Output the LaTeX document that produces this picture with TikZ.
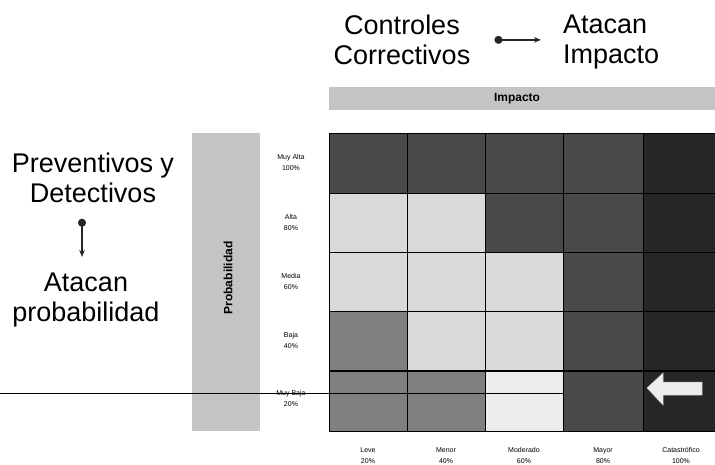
\documentclass[tikz,border=0pt]{standalone}
\usepackage{fontspec}
\setmainfont{Liberation Sans}
\usetikzlibrary{arrows.meta}
\definecolor{barg}{HTML}{C4C4C4}
\definecolor{cK}{HTML}{262626}
\definecolor{cD}{HTML}{4A4A4A}
\definecolor{cM}{HTML}{808080}
\definecolor{cL}{HTML}{DADADA}
\definecolor{cW}{HTML}{EDEDED}
\begin{document}
\begin{tikzpicture}[x=1pt,y=-1pt,
  big/.style={font=\fontsize{27}{29.5}\selectfont, inner sep=0pt, text=black},
  lbl/.style={font=\fontsize{7}{11}\selectfont, align=center, inner sep=0pt},
  barlbl/.style={font=\bfseries\fontsize{12}{14}\selectfont, inner sep=0pt},
  ctlarrow/.style={draw=black!85, line width=1.3pt, {Circle[length=8pt]}-{Stealth[length=7pt,width=5.5pt]}},
  cellline/.style={draw=black, line width=0.8pt}]
\useasboundingbox (0,0) rectangle (715,465);
\fill[white] (0,0) rectangle (715,465);

% titles
\node[big, align=center, anchor=north] (ctrl) at (402,15) {Controles\\Correctivos};
\node[big, align=left, anchor=north west] (atac) at (563,15) {Atacan\\Impacto};
\node[big, align=center, anchor=north] (prev) at (93,153) {Preventivos y\\Detectivos};
\node[big, align=center, anchor=north] (atp) at (86,273) {Atacan\\probabilidad};

\draw[ctlarrow] ([xshift=24pt]ctrl.east) -- ([xshift=-22pt]ctrl.east -| atac.west);
\coordinate (vx) at (82,0);
\draw[ctlarrow, shorten <=16pt, shorten >=16pt] (prev.south -| vx) -- (atp.north -| vx);

% header bars
\fill[barg] (192,133) rectangle (260,431);
\node[barlbl, rotate=90] (prob) at (228,278) {Probabilidad};
\fill[barg] (329,87) rectangle (715,110);
\node[barlbl] (imp) at (517,98.5) {Impacto};

% grid cells
\foreach \r/\ya/\yb/\cols in {1/133/193/{cD,cD,cD,cD,cK},
                             2/193/252/{cL,cL,cD,cD,cK},
                             3/252/311/{cL,cL,cL,cD,cK},
                             4/311/371/{cM,cL,cL,cD,cK},
                             5/371/431/{cM,cM,cW,cD,cK}} {
  \foreach \c [count=\i] in \cols {
    \pgfmathsetmacro{\xa}{{329,407,485,563,643}[\i-1]}
    \pgfmathsetmacro{\xb}{{407,485,563,643,716}[\i-1]}
    \fill[\c] (\xa,\ya) rectangle (\xb,\yb);
  }
}
\foreach \yy in {133,193,252,311,431} \draw[cellline] (329,\yy) -- (715,\yy);
\draw[draw=black, line width=1.8pt] (329,371) -- (715,371);
\foreach \xx in {329,407,485,563,643} \draw[cellline] (\xx,133) -- (\xx,431);

% horizontal marker line
\coordinate (hl0) at (0,393);
\coordinate (hl1) at (563,393);
\draw[black, line width=0.9pt] (hl0) -- (hl1);

% white arrow
\fill[white!93!black, draw=white!75!black, line width=0.5pt]
  (647,388) -- (663,373) -- (663,382) -- (702,382) -- (702,395) -- (663,395) -- (663,405) -- cycle;

% row labels
\node[lbl] (r1) at (291,163) {\strut Muy Alta\\\strut 100\%};
\node[lbl] (r2) at (291,223) {\strut Alta\\\strut 80\%};
\node[lbl] (r3) at (291,282) {\strut Media\\\strut 60\%};
\node[lbl] (r4) at (291,341) {\strut Baja\\\strut 40\%};
\node[lbl] (r5) at (291,399) {\strut Muy Baja\\\strut 20\%};

% column labels
\node[lbl] (k1) at (368,456) {\strut Leve\\\strut 20\%};
\node[lbl] (k2) at (446,456) {\strut Menor\\\strut 40\%};
\node[lbl] (k3) at (524,456) {\strut Moderado\\\strut 60\%};
\node[lbl] (k4) at (603,456) {\strut Mayor\\\strut 80\%};
\node[lbl] (k5) at (681,456) {\strut Catastrófico\\\strut 100\%};
\end{tikzpicture}
\end{document}
